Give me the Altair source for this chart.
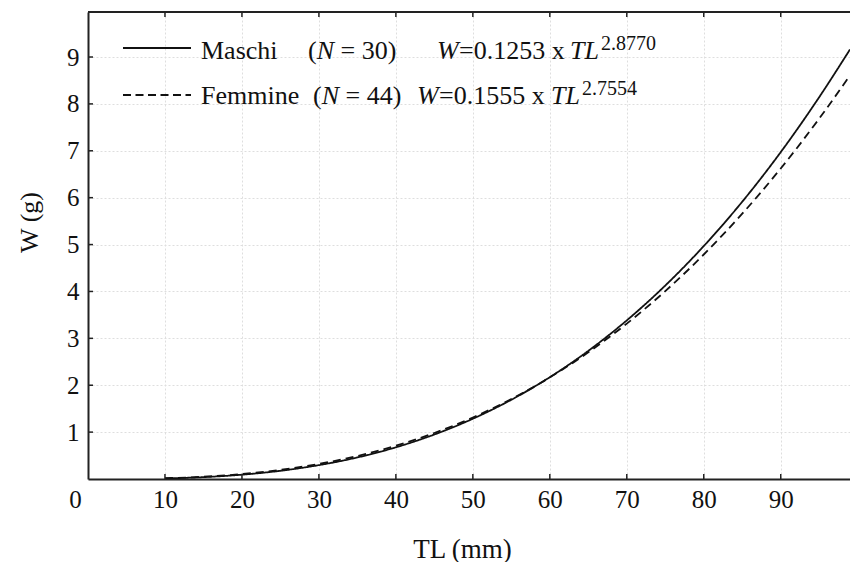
import altair as alt
import pandas as pd

# ---- data ----
tl_mm = [10, 15, 20, 25, 30, 35, 40, 45, 50, 55, 60, 65, 70, 75, 80, 85, 90, 95, 99]
w_maschi = [0.013, 0.040, 0.092, 0.175, 0.296, 0.460, 0.676, 0.949, 1.285, 1.690,
            2.171, 2.733, 3.383, 4.126, 4.968, 5.914, 6.971, 8.144, 9.162]
w_femmine = [0.016, 0.048, 0.105, 0.194, 0.321, 0.491, 0.709, 0.981, 1.311, 1.705,
             2.167, 2.702, 3.314, 4.007, 4.788, 5.658, 6.623, 7.687, 8.607]
series = ["Maschi", "Femmine"]
x_ticks = [0, 10, 20, 30, 40, 50, 60, 70, 80, 90]
y_ticks = [1, 2, 3, 4, 5, 6, 7, 8, 9]
x_domain = [0, 99]
y_domain = [0, 9.96]

W_PX, H_PX = 762, 467
FONT = "Liberation Serif"
INK = "#111111"

n = len(tl_mm)
df = pd.DataFrame({
    "TL": tl_mm * 2,
    "W": w_maschi + w_femmine,
    "sesso": [series[0]] * n + [series[1]] * n,
})

xs = alt.Scale(domain=x_domain, nice=False, zero=False)
ys = alt.Scale(domain=y_domain, nice=False, zero=False)

x_axis = alt.Axis(
    values=x_ticks, format="d", title="TL (mm)",
    labelFont=FONT, labelFontSize=25, labelColor=INK,
    labelBaseline="alphabetic", labelPadding=28,
    labelOffset={"condition": {"test": "datum.value == 0", "value": -13}, "value": 0},
    labelFlush=False, labelOverlap=False,
    ticks=False, domainColor="#222222", domainWidth=2,
    grid=True, gridColor="#dedede", gridDash=[2, 2], gridWidth=1,
    titleFont=FONT, titleFontSize=27, titleFontWeight="normal", titleColor=INK,
    titleX=374, titleY=78, titleBaseline="alphabetic", titleAlign="center",
)
y_axis = alt.Axis(
    values=y_ticks, format="d", title="W (g)",
    labelFont=FONT, labelFontSize=25, labelColor=INK,
    labelPadding=9, labelFlush=False, labelOverlap=False,
    ticks=False, domainColor="#222222", domainWidth=2,
    grid=True, gridColor="#dedede", gridDash=[2, 2], gridWidth=1,
    titleFont=FONT, titleFontSize=26, titleFontWeight="normal", titleColor=INK,
    titleX=-51, titleY=210, titleAngle=-90, titleBaseline="alphabetic", titleAlign="center",
)

lines = alt.Chart(df).mark_line(
    color=INK, strokeWidth=1.8, interpolate="monotone", clip=True
).encode(
    x=alt.X("TL:Q", scale=xs, axis=x_axis),
    y=alt.Y("W:Q", scale=ys, axis=y_axis),
    strokeDash=alt.StrokeDash("sesso:N", scale=alt.Scale(domain=series, range=[[1, 0], [8, 5]]), legend=None),
    detail="sesso:N",
)

# inside tick marks
xt = pd.DataFrame({"TL": x_ticks[1:]})
yt = pd.DataFrame({"W": y_ticks})
tick_bottom = alt.Chart(xt).mark_rule(color="#222222", strokeWidth=1.5).encode(
    x=alt.X("TL:Q", scale=xs, axis=x_axis), y=alt.value(H_PX), y2=alt.value(H_PX - 5))
tick_top = alt.Chart(xt).mark_rule(color="#222222", strokeWidth=1.5).encode(
    x=alt.X("TL:Q", scale=xs, axis=x_axis), y=alt.value(0), y2=alt.value(5))
tick_left = alt.Chart(yt).mark_rule(color="#222222", strokeWidth=1.5).encode(
    y=alt.Y("W:Q", scale=ys, axis=y_axis), x=alt.value(0), x2=alt.value(5))

one = alt.Data(values=[{"k": 0}])
top_border = alt.Chart(one).mark_rule(color="#222222", strokeWidth=2).encode(
    x=alt.value(0), x2=alt.value(W_PX), y=alt.value(0))

# legend (drawn by hand, since it mixes italic and superscript text)
leg_solid = alt.Chart(one).mark_rule(color=INK, strokeWidth=1.8).encode(
    x=alt.value(35), x2=alt.value(103), y=alt.value(36))
leg_dash = alt.Chart(one).mark_rule(color=INK, strokeWidth=1.8, strokeDash=[8, 4.5]).encode(
    x=alt.value(35), x2=alt.value(103), y=alt.value(83))

# (text, x, baseline y, size, style)
legend_pieces = [
    ("Maschi", 113, 47, 26, "normal"),
    ("(", 220, 47, 26, "normal"),
    ("N", 228.7, 47, 26, "italic"),
    ("= 30)", 252.5, 47, 26, "normal"),
    ("W", 349, 47, 26, "italic"),
    ("=0.1253 x", 371, 47, 26, "normal"),
    ("TL", 482, 47, 26, "italic"),
    ("2.8770", 513, 38, 20, "normal"),
    ("Femmine", 113, 92, 26, "normal"),
    ("(", 225, 92, 26, "normal"),
    ("N", 233.7, 92, 26, "italic"),
    ("= 44)", 257.5, 92, 26, "normal"),
    ("W", 329, 92, 26, "italic"),
    ("=0.1555 x", 351, 92, 26, "normal"),
    ("TL", 463, 92, 26, "italic"),
    ("2.7554", 494, 83, 20, "normal"),
]

text_layers = [
    alt.Chart(one).mark_text(
        font=FONT, fontSize=sz, fontStyle=st, color=INK,
        align="left", baseline="alphabetic"
    ).encode(x=alt.value(px), y=alt.value(py), text=alt.value(t))
    for (t, px, py, sz, st) in legend_pieces
]

chart = alt.layer(
    lines, tick_bottom, tick_top, tick_left, top_border,
    leg_solid, leg_dash, *text_layers
).properties(
    width=W_PX, height=H_PX,
    autosize=alt.AutoSizeParams(type="none"),
    padding={"left": 88, "top": 12, "right": 0, "bottom": 83},
    background="white",
).configure_view(stroke=None)

chart.save("out.html", embed_options={"renderer": "svg", "actions": False})
